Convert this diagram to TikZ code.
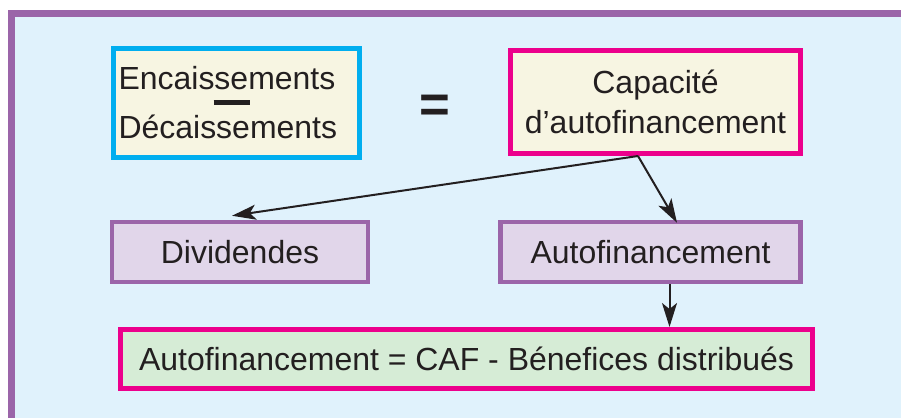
\documentclass[tikz,border=0pt]{standalone}
\usepackage{fontspec}
\setmainfont{Liberation Sans}
\usetikzlibrary{arrows.meta}
\definecolor{framepurple}{HTML}{9B65A9}
\definecolor{paleblue}{HTML}{E0F2FC}
\definecolor{encblue}{HTML}{00AEEF}
\definecolor{cream}{HTML}{F7F5E2}
\definecolor{cafpink}{HTML}{EC008C}
\definecolor{lavender}{HTML}{E1D6EA}
\definecolor{palegreen}{HTML}{D6ECD6}
\definecolor{inkblack}{HTML}{231F20}
\begin{document}
\begin{tikzpicture}[>={Stealth[length=0.48cm,width=0.3cm,inset=0.12cm]},x=0.02cm,y=-0.02cm,
  box/.style={draw,line width=0.1cm,inner sep=0.1cm,text=inkblack,font=\fontsize{18.2}{22.8}\selectfont},
  flow/.style={->,line width=0.04cm,draw=inkblack}]
\useasboundingbox (0,0) rectangle (901,417);
\clip (0,0) rectangle (901,417);
% frame
\draw[line width=0.14cm,draw=framepurple,fill=paleblue] (11.5,13.5) rectangle (940,450);
% top row: the equality
\node[box,draw=encblue,fill=cream,minimum height=2.18cm,text width=4.72cm,align=left,
  font=\fontsize{18.2}{27.9}\selectfont] (enc) at (236.5,103)
  {Encaissements\\\leavevmode\rlap{\hspace{1.9cm}\smash{\raisebox{0.68cm}{\rule{0.72cm}{0.1cm}}}}Décaissements};
\node[text=inkblack,font=\fontsize{30}{30}\bfseries] (eq) at (435,109) {=};
\node[box,draw=cafpink,fill=cream,minimum width=5.8cm,minimum height=2.06cm,align=center] (caf) at (655.5,102)
  {Capacité\\d’autofinancement};
% middle row
\node[box,draw=framepurple,line width=0.09cm,fill=lavender,minimum width=5.12cm,minimum height=1.2cm] (div) at (240,252) {Dividendes};
\node[box,draw=framepurple,line width=0.09cm,fill=lavender,minimum width=6cm,minimum height=1.2cm] (auto) at (650.5,252) {Autofinancement};
% bottom: the formula
\node[box,draw=cafpink,fill=palegreen,minimum width=13.84cm,minimum height=1.18cm] (formula) at (466.5,359)
  {Autofinancement = CAF - Bénefices distribués};
% arrows
\draw[flow] ([xshift=-0.35cm]caf.south) -- ([xshift=-0.16cm,yshift=0.08cm]div.north);
\draw[flow] ([xshift=-0.35cm]caf.south) -- ([xshift=0.53cm,yshift=-0.06cm]auto.north);
\draw[flow] ([xshift=0.38cm]auto.south) -- ([xshift=0.38cm]auto.south |- formula.north);
\end{tikzpicture}
\end{document}
